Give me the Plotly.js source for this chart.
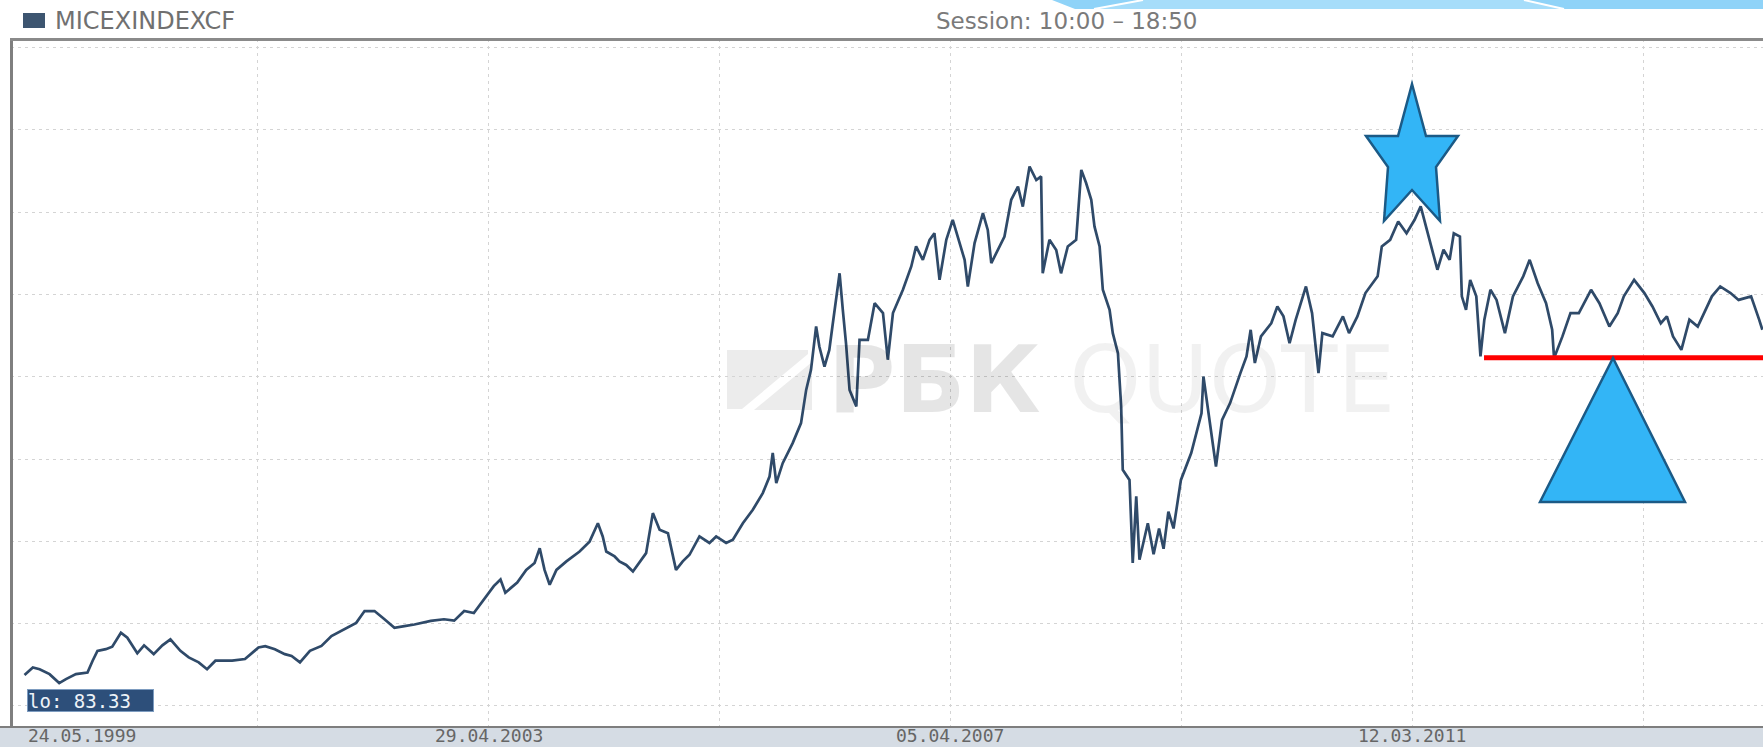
<!DOCTYPE html>
<html>
<head>
<meta charset="utf-8">
<script src="https://cdn.plot.ly/plotly-3.0.1.min.js"></script>
<style>html,body{margin:0;padding:0;background:#fff;}#chart{width:1763px;height:747px;}</style>
</head>
<body>
<div id="chart"></div>
<script>
// ---- data ----
const dates = [
'1999-05-16','1999-06-11','1999-07-02','1999-08-02','1999-09-01','1999-09-22','1999-10-23','1999-11-28','1999-12-14','1999-12-29',
'2000-01-24','2000-02-13','2000-03-11','2000-03-31','2000-05-01','2000-05-22','2000-06-21','2000-07-18','2000-08-12','2000-09-12','2000-10-08','2000-11-08','2000-12-04','2000-12-30',
'2001-02-20','2001-04-01','2001-05-13','2001-06-03','2001-07-03','2001-08-03','2001-08-24','2001-09-19','2001-10-20','2001-11-25','2001-12-26',
'2002-02-05','2002-03-13','2002-04-08','2002-05-09','2002-06-09','2002-07-10','2002-08-10','2002-09-10','2002-10-31','2002-12-11',
'2003-01-12','2003-02-12','2003-03-14','2003-04-14','2003-05-15','2003-06-05','2003-06-20','2003-07-27','2003-08-24','2003-09-19','2003-10-05','2003-10-20','2003-11-05','2003-11-26','2003-12-27',
'2004-02-06','2004-03-08','2004-04-03','2004-04-18','2004-04-29','2004-05-25','2004-06-09','2004-06-30','2004-07-21','2004-08-10','2004-08-31','2004-09-21','2004-10-12','2004-11-07','2004-11-22','2004-12-02','2004-12-23',
'2005-01-13','2005-02-13','2005-03-16','2005-04-06','2005-05-07','2005-05-28','2005-06-28','2005-07-29','2005-08-29','2005-09-19','2005-09-29','2005-10-10','2005-10-30','2005-11-30','2005-12-26',
'2006-01-11','2006-01-26','2006-02-11','2006-02-21','2006-03-09','2006-03-24','2006-04-04','2006-04-25','2006-05-05','2006-05-15','2006-05-26','2006-06-16','2006-06-26','2006-07-22','2006-08-12','2006-09-07','2006-09-22','2006-10-08','2006-11-08','2006-12-04','2006-12-19',
'2007-01-09','2007-01-30','2007-02-14','2007-03-02','2007-03-23','2007-04-12','2007-04-28','2007-05-19','2007-05-29','2007-06-19','2007-07-15','2007-07-30','2007-08-10','2007-08-30','2007-09-20','2007-10-11','2007-11-01','2007-11-16','2007-12-07','2007-12-28',
'2008-01-12','2008-01-17','2008-02-07','2008-02-28','2008-03-14','2008-04-04','2008-04-30','2008-05-16','2008-05-31','2008-06-16','2008-06-26','2008-07-12','2008-07-22','2008-08-12','2008-08-22','2008-09-07','2008-09-17','2008-09-22','2008-10-13','2008-10-23','2008-11-03','2008-11-13','2008-12-09','2008-12-27',
'2009-01-13','2009-01-27','2009-02-11','2009-02-27','2009-03-22','2009-04-23','2009-05-25','2009-05-31','2009-06-13','2009-07-09','2009-07-28','2009-08-22','2009-09-23','2009-10-12','2009-10-25','2009-11-07','2009-11-26','2009-12-28',
'2010-01-16','2010-02-04','2010-02-23','2010-03-14','2010-04-15','2010-05-04','2010-05-24','2010-06-05','2010-07-07','2010-08-08','2010-08-27','2010-09-22','2010-10-17','2010-11-24','2010-12-07',
'2011-01-02','2011-01-27','2011-02-22','2011-03-19','2011-04-07','2011-04-26','2011-05-09','2011-05-29','2011-06-17','2011-07-06','2011-07-19','2011-08-07','2011-08-13','2011-08-26','2011-09-08','2011-09-27','2011-10-10','2011-10-22','2011-11-10','2011-11-29','2011-12-25',
'2012-01-19','2012-02-20','2012-03-11','2012-04-05','2012-05-01','2012-05-20','2012-05-26','2012-06-21','2012-07-16','2012-08-11','2012-09-18','2012-10-14','2012-11-14','2012-12-10','2012-12-29',
'2013-01-30','2013-03-03','2013-03-28','2013-04-23','2013-05-12','2013-05-31','2013-06-26','2013-07-21','2013-08-16','2013-09-10','2013-09-29','2013-10-25','2013-11-26','2013-12-21',
'2014-01-29','2014-02-23','2014-03-05'
];
const values = [
113,140,134,116,83.33,98,116,122,165,201,
207,216,267,249,192,221,189,221,243,201,177,159,134,165,
165,171,213,218,207,189,182,159,201,219,255,
279,303,346,346,316,285,291,297,310,316,
311,346,339,388,437,461,413,450,496,521,575,496,442,496,527,
563,599,666,618,563,545,527,514,490,521,557,703,642,630,545,496,527,
551,618,594,618,594,606,666,715,776,836,922,812,885,958,1031,
1152,1225,1383,1310,1237,1298,1395,1577,1444,1322,1152,1092,1334,1334,1468,1432,1262,1432,1517,1602,1675,
1626,1699,1723,1553,1699,1772,1711,1626,1529,1687,1796,1735,1614,1662,1711,1845,1893,1820,1966,1917,
1930,1577,1699,1662,1577,1675,1699,1954,1906,1845,1748,1675,1517,1444,1359,1286,1092,861,824,521,764,533,666,553,
647,573,708,647,824,922,1067,1201,1092,873,1043,1104,1213,1274,1371,1250,1347,1395,
1456,1420,1322,1407,1529,1432,1213,1359,1347,1420,1359,1420,1505,1566,1675,
1699,1766,1723,1772,1821,1736,1675,1590,1663,1626,1723,1711,1493,1444,1553,1493,1274,1408,1517,1480,1359,
1493,1566,1626,1541,1468,1371,1268,1347,1432,1432,1517,1468,1383,1432,1493,
1553,1505,1456,1395,1420,1347,1298,1408,1383,1444,1493,1529,1505,1480,
1493,1408,1371
];
const tickDates  = ['1999-05-24','2003-04-29','2007-04-05','2011-03-12'];
const tickLabels = ['24.05.1999','29.04.2003','05.04.2007','12.03.2011'];
const gridDates  = ['2001-05-11','2003-04-29','2005-04-17','2007-04-05','2009-03-24','2011-03-12','2013-02-28'];
const gridValues = [0,300,600,900,1200,1500,1800,2100,2400];
const seriesName = 'MICEXINDEXCF';
const sessionText = 'Session: 10:00 \u2013 18:50';
const lowLabel = 'lo: 83.33';
const supportLevel = 1269;
const supportStart = '2011-10-21';
const xRange = ['1999-04-04','2014-03-07'];
const yRange = [-73, 2431];

// ---- layout helpers (pixel -> paper) ----
const W = 1763, H = 747, M = {l: 11, r: 0, t: 39, b: 21};
const pw = W - M.l - M.r, ph = H - M.t - M.b;
const px = x => (x - M.l) / pw;
const py = y => (H - M.b - y) / ph;
const poly = pts => 'M' + pts.map(p => px(p[0]).toFixed(5) + ',' + py(p[1]).toFixed(5)).join('L') + 'Z';

const starPts = [[1412,84],[1426,136],[1458,136],[1436,167],[1440,221],[1412,190],[1384,221],[1388,167],[1366,136],[1398,136]];
const triPts = [[1613,358],[1685,502],[1540,502]];

const shapes = [
  // bottom axis band
  {type:'rect', xref:'paper', yref:'paper', x0:px(0), x1:px(W), y0:py(H), y1:0, fillcolor:'#d5dce4', line:{width:0}, layer:'below'},
  {type:'line', xref:'paper', yref:'paper', x0:px(0), x1:px(W), y0:py(727), y1:py(727), line:{color:'#7e7e7e', width:2}},
  // frame
  {type:'line', xref:'paper', yref:'paper', x0:px(11.5), x1:px(11.5), y0:0, y1:py(38), line:{color:'#7f7f7f', width:3}},
  {type:'line', xref:'paper', yref:'paper', x0:px(10), x1:px(W), y0:py(39.5), y1:py(39.5), line:{color:'#8a8a8a', width:3}},
  // legend square
  {type:'rect', xref:'paper', yref:'paper', x0:px(23), x1:px(45), y0:py(28), y1:py(13), fillcolor:'#3d5570', line:{width:0}},
  // top decoration band
  {type:'path', xref:'paper', yref:'paper', path:poly([[1052,0],[1763,0],[1763,9],[1075,9]]), fillcolor:'#8fd3f8', line:{width:0}},
  {type:'path', xref:'paper', yref:'paper', path:poly([[1143,0],[1524,0],[1564,9],[1094,9]]), fillcolor:'#a6ddfa', line:{width:0}},
  {type:'line', xref:'paper', yref:'paper', x0:px(1094), x1:px(1143), y0:py(9), y1:py(0), line:{color:'#ffffff', width:2}},
  {type:'line', xref:'paper', yref:'paper', x0:px(1524), x1:px(1564), y0:py(0), y1:py(9), line:{color:'#ffffff', width:2}},
  // watermark logo
  {type:'path', xref:'paper', yref:'paper', path:poly([[727,350],[808,350],[808,354],[742,409],[727,409]]), fillcolor:'#ececec', line:{width:0}, layer:'below'},
  {type:'path', xref:'paper', yref:'paper', path:poly([[754,410],[812,362],[812,410]]), fillcolor:'#ececec', line:{width:0}, layer:'below'},
  // support line
  {type:'line', xref:'x', yref:'y', x0:supportStart, x1:xRange[1], y0:supportLevel, y1:supportLevel, line:{color:'#ff0000', width:5}, layer:'above'},
  // star and triangle
  {type:'path', xref:'paper', yref:'paper', path:poly(starPts), fillcolor:'#33b5f6', line:{color:'#1b5a86', width:2.5}, layer:'above'},
  {type:'path', xref:'paper', yref:'paper', path:poly(triPts), fillcolor:'#33b5f6', line:{color:'#1b5a86', width:2.5}, layer:'above'}
];

const annotations = [
  {xref:'paper', yref:'paper', x:px(53), y:py(20.5), xanchor:'left', yanchor:'middle', showarrow:false,
   text:seriesName, font:{family:'DejaVu Sans', size:24, color:'#707070'}},
  {xref:'paper', yref:'paper', x:px(1067), y:py(20.5), xanchor:'center', yanchor:'middle', showarrow:false,
   text:sessionText, font:{family:'DejaVu Sans', size:23, color:'#7a7a7a'}},
  // watermark
  {xref:'paper', yref:'paper', x:px(934), y:py(380), xanchor:'center', yanchor:'middle', showarrow:false,
   text:'<b>РБК</b>', font:{family:'DejaVu Sans', size:92, color:'rgba(0,0,0,0.10)'}},
  {xref:'paper', yref:'paper', x:px(1232), y:py(380), xanchor:'center', yanchor:'middle', showarrow:false,
   text:'QUOTE', font:{family:'DejaVu Sans', size:92, color:'rgba(0,0,0,0.055)'}},
  // low label
  {xref:'x', yref:'paper', x:'1999-05-25', y:py(700), xanchor:'left', yanchor:'middle', showarrow:false,
   text:lowLabel, width:125, height:21, align:'left', bgcolor:'#2d4f7a', bordercolor:'#7d9cc0', borderwidth:1, borderpad:0,
   font:{family:'DejaVu Sans Mono', size:19, color:'#eef3f8'}}
];
tickDates.forEach((d, i) => {
  annotations.push({xref:'x', yref:'paper', x:d, y:py(735.5), xanchor: i === 0 ? 'left' : 'center', yanchor:'middle',
    showarrow:false, borderpad:0, text:tickLabels[i], font:{family:'DejaVu Sans Mono', size:18, color:'#666666'}});
});

const trace = {
  type:'scatter', mode:'lines', x:dates, y:values, name:seriesName,
  line:{color:'#2f4a69', width:2.7}, hoverinfo:'skip', cliponaxis:true
};

const layout = {
  width:W, height:H, autosize:false,
  margin:{l:M.l, r:M.r, t:M.t, b:M.b, pad:0},
  paper_bgcolor:'#ffffff', plot_bgcolor:'#ffffff',
  showlegend:false,
  xaxis:{type:'date', range:xRange, tickmode:'array', tickvals:gridDates, showticklabels:false, ticks:'',
         showgrid:true, gridcolor:'#d4d4d4', griddash:'3px,4px', gridwidth:1, zeroline:false, showline:false, fixedrange:true},
  yaxis:{range:yRange, tickmode:'array', tickvals:gridValues, showticklabels:false, ticks:'',
         showgrid:true, gridcolor:'#d4d4d4', griddash:'3px,4px', gridwidth:1, zeroline:false, showline:false, fixedrange:true},
  shapes:shapes,
  annotations:annotations
};

Plotly.newPlot('chart', [trace], layout, {displayModeBar:false, staticPlot:true});
</script>
</body>
</html>
